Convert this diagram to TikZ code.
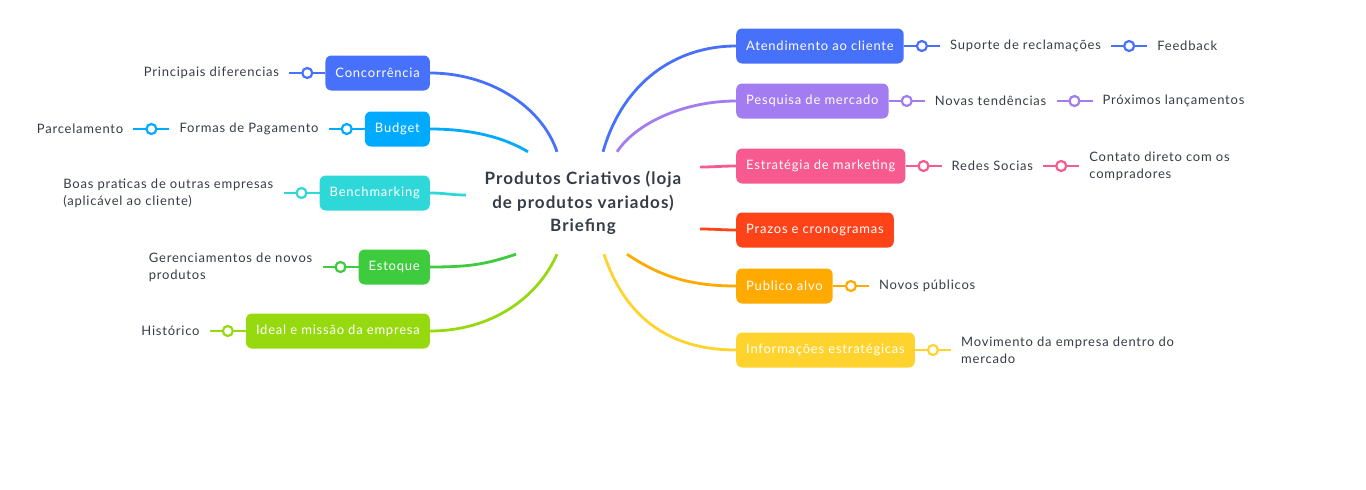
\documentclass[tikz,border=0pt]{standalone}
\usepackage{fontspec}
\setmainfont[LetterSpace=6]{Lato}
\usetikzlibrary{positioning,calc}
\definecolor{cblue}{HTML}{4770FB}
\definecolor{csky}{HTML}{00AAFF}
\definecolor{ccyan}{HTML}{2ED8D8}
\definecolor{cgreen}{HTML}{3ECB3E}
\definecolor{clime}{HTML}{96D90F}
\definecolor{cpurple}{HTML}{A27CF0}
\definecolor{cpink}{HTML}{F75A8E}
\definecolor{cred}{HTML}{FF4319}
\definecolor{corange}{HTML}{FFAA00}
\definecolor{cyellow}{HTML}{FFD32E}
\definecolor{ink}{HTML}{363C46}
\begin{document}
\begin{tikzpicture}[x=1pt,y=-1pt,node distance=36pt,
    branch/.style={rounded corners=6pt,fill=#1,text=white,minimum height=35pt,
        inner xsep=10pt,font=\fontsize{13}{17}\selectfont},
    leaf/.style={text=ink,inner xsep=10pt,align=left,font=\fontsize{13}{17}\selectfont},
    link/.style={draw=#1,line width=2.8pt},
    curve/.style={draw=#1,line width=2.8pt},
    dot/.style={circle,draw=#1,fill=white,line width=2.2pt,minimum size=10pt,inner sep=0pt}]
    \useasboundingbox (0,0) rectangle (1366,490);

    % central topic
    \node[minimum width=234pt,minimum height=102pt,align=center,text=ink,
        font=\fontsize{17}{23.5}\selectfont\bfseries] (root) at (583,203)
        {Produtos Criativos (loja\\de produtos variados)\\Briefing};

    % left branches
    \node[branch=cblue,anchor=east] (conc) at (430,73) {Concorrência};
    \node[branch=csky,anchor=east] (budget) at (430,129) {Budget};
    \node[branch=ccyan,anchor=east] (bench) at (430,193) {Benchmarking};
    \node[branch=cgreen,anchor=east] (estoque) at (430,267) {Estoque};
    \node[branch=clime,anchor=east] (ideal) at (430,331) {Ideal e missão da empresa};

    % right branches
    \node[branch=cblue,anchor=west] (atend) at (736,46) {Atendimento ao cliente};
    \node[branch=cpurple,anchor=west] (pesq) at (736,101) {Pesquisa de mercado};
    \node[branch=cpink,anchor=west] (estrat) at (736,166) {Estratégia de marketing};
    \node[branch=cred,anchor=west] (prazos) at (736,230) {Prazos e cronogramas};
    \node[branch=corange,anchor=west] (publico) at (736,286) {Publico alvo};
    \node[branch=cyellow,anchor=west] (info) at (736,350) {Informações estratégicas};

    % leaves
    \node[leaf,left=of conc] (difer) {Principais diferencias};
    \node[leaf,left=of budget] (formas) {Formas de Pagamento};
    \node[leaf,left=of formas] (parcel) {Parcelamento};
    \node[leaf,left=of bench] (boas) {Boas praticas de outras empresas\\(aplicável ao cliente)};
    \node[leaf,left=of estoque] (gerenc) {Gerenciamentos de novos\\produtos};
    \node[leaf,left=of ideal] (hist) {Histórico};
    \node[leaf,right=of atend] (suporte) {Suporte de reclamações};
    \node[leaf,right=of suporte] (feed) {Feedback};
    \node[leaf,right=of pesq] (tend) {Novas tendências};
    \node[leaf,right=of tend] (lanc) {Próximos lançamentos};
    \node[leaf,right=of estrat] (redes) {Redes Socias};
    \node[leaf,right=of redes] (contato) {Contato direto com os\\compradores};
    \node[leaf,right=of publico] (novos) {Novos públicos};
    \node[leaf,right=of info] (movim) {Movimento da empresa dentro do\\mercado};

    % curves from the centre
    \draw[curve=cblue] ($(root.north)+(-26,0)$) .. controls +(-15,-45) and +(60,0) .. (conc.east);
    \draw[curve=csky] ($(root.north)+(-55,0)$) .. controls +(-25,-15) and +(40,0) .. (budget.east);
    \draw[curve=ccyan] ($(root.west)+(0,-8)$) .. controls +(-15,0) and +(15,0) .. (bench.east);
    \draw[curve=cgreen] ($(root.south)+(-67,0)$) .. controls +(-30,10) and +(40,0) .. (estoque.east);
    \draw[curve=clime] ($(root.south)+(-26,0)$) .. controls +(-20,45) and +(60,0) .. (ideal.east);
    \draw[curve=cblue] ($(root.north)+(20,0)$) .. controls +(20,-70) and +(-60,0) .. (atend.west);
    \draw[curve=cpurple] ($(root.north)+(34,0)$) .. controls +(20,-30) and +(-50,0) .. (pesq.west);
    \draw[curve=cpink] ($(root.east)+(0,-36)$) .. controls +(15,0) and +(-15,0) .. (estrat.west);
    \draw[curve=cred] ($(root.east)+(0,26)$) .. controls +(15,0) and +(-15,0) .. (prazos.west);
    \draw[curve=corange] ($(root.south)+(44,0)$) .. controls +(30,20) and +(-50,0) .. (publico.west);
    \draw[curve=cyellow] ($(root.south)+(21,0)$) .. controls +(20,60) and +(-70,0) .. (info.west);

    % links to the leaves
    \draw[link=cblue] (conc) -- node[dot=cblue] (d1) {} (difer);
    \draw[link=csky] (budget) -- node[dot=csky] (d2) {} (formas);
    \draw[link=csky] (formas) -- node[dot=csky] (d3) {} (parcel);
    \draw[link=ccyan] (bench) -- node[dot=ccyan] (d4) {} (boas);
    \draw[link=cgreen] (estoque) -- node[dot=cgreen] (d5) {} (gerenc);
    \draw[link=clime] (ideal) -- node[dot=clime] (d6) {} (hist);
    \draw[link=cblue] (atend) -- node[dot=cblue] (d7) {} (suporte);
    \draw[link=cblue] (suporte) -- node[dot=cblue] (d8) {} (feed);
    \draw[link=cpurple] (pesq) -- node[dot=cpurple] (d9) {} (tend);
    \draw[link=cpurple] (tend) -- node[dot=cpurple] (d10) {} (lanc);
    \draw[link=cpink] (estrat) -- node[dot=cpink] (d11) {} (redes);
    \draw[link=cpink] (redes) -- node[dot=cpink] (d12) {} (contato);
    \draw[link=corange] (publico) -- node[dot=corange] (d13) {} (novos);
    \draw[link=cyellow] (info) -- node[dot=cyellow] (d14) {} (movim);
\end{tikzpicture}
\end{document}
